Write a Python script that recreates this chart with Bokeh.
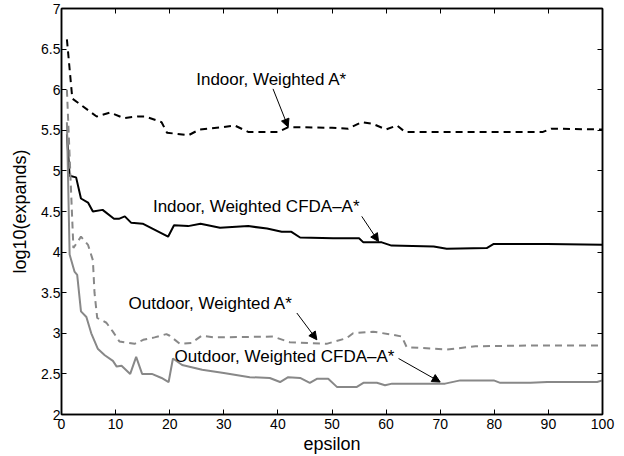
from bokeh.plotting import figure
from bokeh.models import Range1d, FixedTicker, LinearAxis, Arrow, NormalHead, Label
from bokeh.embed import file_html
from bokeh.resources import INLINE

# ---- data ----
indoor_astar_x = [1, 2, 6.5, 9, 11.5, 14, 15.5, 18.5, 19.5, 23.5, 25.5, 30, 32, 34.5, 40, 42, 50, 53,
                  55.5, 57.5, 60, 62, 63.5, 89, 90.5, 100]
indoor_astar_y = [6.62, 5.89, 5.67, 5.72, 5.65, 5.67, 5.67, 5.6, 5.47, 5.44, 5.51, 5.54, 5.56, 5.48, 5.48,
                  5.54, 5.53, 5.52, 5.6, 5.58, 5.51, 5.56, 5.48, 5.48, 5.52, 5.51]

indoor_cfda_x = [1, 1.5, 2.7, 3.6, 4.9, 5.8, 7.6, 9.7, 10.6, 11.7, 12.9, 15, 19.7, 20.8, 23.4, 25.7, 29.3,
                 34.5, 38, 40.7, 42.5, 44.1, 50.2, 55, 55.8, 59.2, 61, 68.8, 71.2, 78.6, 79.9, 89.8, 100]
indoor_cfda_y = [5.45, 4.94, 4.92, 4.66, 4.61, 4.5, 4.52, 4.41, 4.41, 4.44, 4.36, 4.35, 4.19, 4.33, 4.32,
                 4.35, 4.30, 4.32, 4.29, 4.25, 4.25, 4.18, 4.17, 4.17, 4.12, 4.12, 4.08, 4.07, 4.04, 4.05,
                 4.10, 4.10, 4.09]

outdoor_astar_x = [1, 2.2, 3.6, 4.9, 5.8, 6.1, 6.6, 8.3, 9.5, 10.7, 13.5, 15.1, 17.2, 19.4, 20, 21.9, 24,
                   25.9, 28.3, 39.1, 42.2, 49, 52.7, 53.9, 57.6, 61.4, 62.9, 63.8, 71.2, 76.5, 86.7, 100]
outdoor_astar_y = [6.0, 4.05, 4.19, 4.09, 3.9, 3.5, 3.19, 3.13, 3.02, 2.9, 2.87, 2.92, 2.95, 2.99, 2.97,
                   2.87, 2.88, 2.97, 2.95, 2.96, 2.89, 2.87, 2.94, 3.0, 3.02, 2.98, 2.96, 2.83, 2.8, 2.84,
                   2.85, 2.85]

outdoor_cfda_x = [1, 1.5, 2.4, 2.9, 3.6, 4.6, 5.5, 6.7, 8, 9.5, 10.2, 11.1, 12.7, 13.8, 14.9, 16.7, 18.5,
                  19.8, 20.6, 22.3, 26, 30, 34.8, 38.5, 40.4, 41.9, 44.1, 45.9, 47.2, 49.3, 50.9, 54.6,
                  55.8, 58.3, 59.8, 61.1, 70.9, 73.7, 79.9, 81.1, 86.7, 89.8, 99, 100]
outdoor_cfda_y = [5.6, 3.97, 3.76, 3.72, 3.27, 3.2, 3.0, 2.81, 2.73, 2.66, 2.59, 2.6, 2.5, 2.71, 2.5, 2.5,
                  2.45, 2.4, 2.69, 2.61, 2.55, 2.51, 2.46, 2.45, 2.40, 2.46, 2.45, 2.39, 2.44, 2.44, 2.34,
                  2.34, 2.39, 2.39, 2.36, 2.38, 2.38, 2.42, 2.42, 2.39, 2.39, 2.40, 2.40, 2.42]

x_ticks = [0, 10, 20, 30, 40, 50, 60, 70, 80, 90, 100]
y_ticks = [2, 2.5, 3, 3.5, 4, 4.5, 5, 5.5, 6, 6.5, 7]
y_tick_labels = ["2", "2.5", "3", "3.5", "4", "4.5", "5", "5.5", "6", "6.5", "7"]

annot_texts = ["Indoor, Weighted A*", "Indoor, Weighted CFDA\u2013A*",
               "Outdoor, Weighted A*", "Outdoor, Weighted CFDA\u2013A*"]
annot_pos = [(24.9, 6.13), (16.9, 4.56), (12.4, 3.37), (20.9, 2.71)]
arrow_start = [(39.1, 6.01), (55.5, 4.44), (43.5, 3.25), (62.3, 2.69)]
arrow_end = [(41.9, 5.54), (58.6, 4.13), (47.2, 2.92), (70.0, 2.40)]

FONT = "Liberation Sans"
GRAY = "#888888"

p = figure(width=620, height=456, x_range=Range1d(0, 100), y_range=Range1d(2, 7),
           output_backend="svg", toolbar_location=None,
           min_border_left=61, min_border_right=18, min_border_top=8, min_border_bottom=42)
p.background_fill_color = "white"
p.border_fill_color = "white"
p.outline_line_color = "black"
p.outline_line_width = 1.5
p.xgrid.visible = False
p.ygrid.visible = False

def style_axis(ax, ticks, show_labels):
    ax.ticker = FixedTicker(ticks=ticks)
    ax.major_tick_in = 5
    ax.major_tick_out = 0
    ax.minor_tick_line_color = None
    ax.axis_line_color = "black"
    ax.axis_line_width = 1.5
    ax.major_tick_line_color = "black"
    ax.major_tick_line_width = 1
    ax.major_label_text_font = FONT
    ax.major_label_text_font_size = "14px"
    ax.major_label_text_color = "black"
    if show_labels:
        ax.axis_label_text_font = FONT
        ax.axis_label_text_font_size = "18px"
        ax.axis_label_text_font_style = "normal"
        ax.axis_label_text_color = "black"
    else:
        ax.major_label_overrides = {t: "" for t in ticks}
        ax.major_label_standoff = 0

xa = p.xaxis[0]
style_axis(xa, x_ticks, True)
xa.axis_label = "epsilon"
xa.major_label_standoff = 4
xa.axis_label_standoff = 2

ya = p.yaxis[0]
style_axis(ya, y_ticks, True)
ya.major_label_overrides = {t: l for t, l in zip(y_ticks, y_tick_labels)}
ya.axis_label = "log10(expands)"
ya.major_label_standoff = 1
ya.axis_label_standoff = 8

top = LinearAxis()
style_axis(top, x_ticks, False)
p.add_layout(top, "above")
right = LinearAxis()
style_axis(right, y_ticks, False)
p.add_layout(right, "right")

p.line(indoor_astar_x, indoor_astar_y, line_color="black", line_width=2, line_dash="7 5")
p.line(indoor_cfda_x, indoor_cfda_y, line_color="black", line_width=2)
p.line(outdoor_astar_x, outdoor_astar_y, line_color=GRAY, line_width=2, line_dash="7 5")
p.line(outdoor_cfda_x, outdoor_cfda_y, line_color=GRAY, line_width=2)

for txt, (tx, ty) in zip(annot_texts, annot_pos):
    p.add_layout(Label(x=tx, y=ty, text=txt, text_font=FONT, text_font_size="17px",
                       text_color="black", text_baseline="middle", text_align="left"))

for (x0, y0), (x1, y1) in zip(arrow_start, arrow_end):
    p.add_layout(Arrow(x_start=x0, y_start=y0, x_end=x1, y_end=y1, line_color="black", line_width=1,
                       end=NormalHead(size=8, fill_color="black", line_color="black")))

open("out.html", "w").write(file_html(p, INLINE))
